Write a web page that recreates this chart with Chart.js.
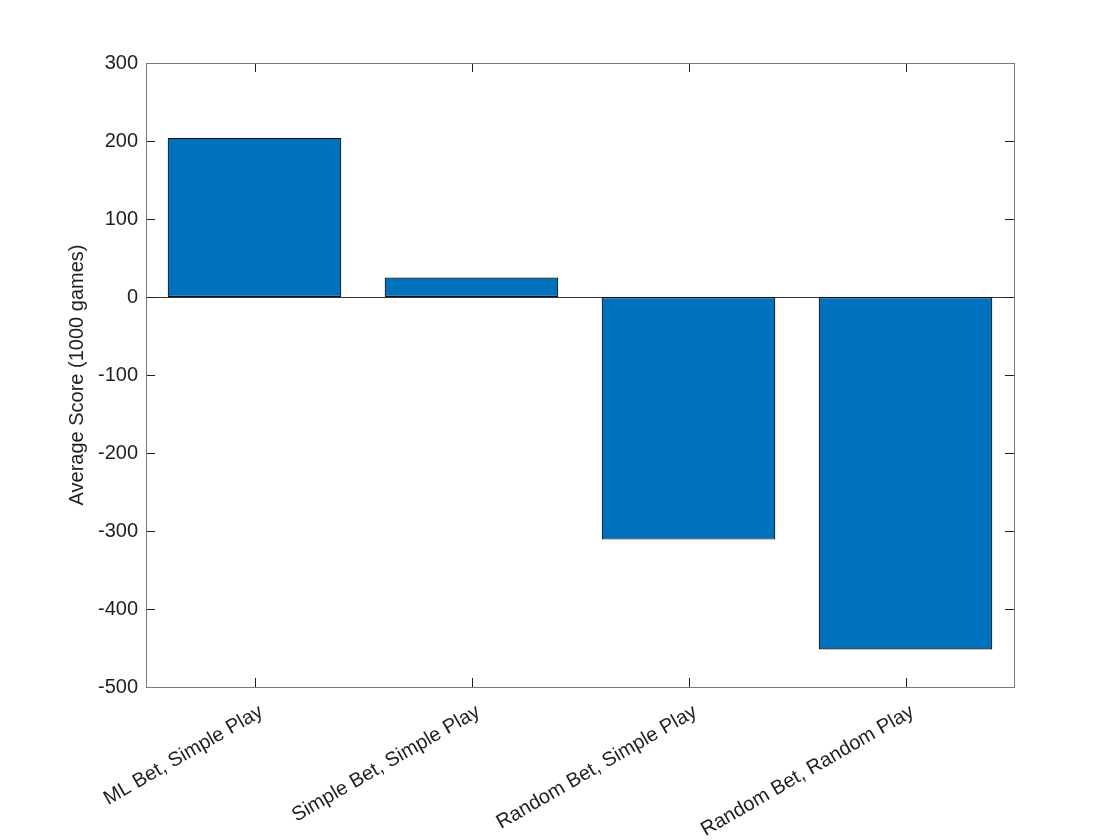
<!DOCTYPE html>
<html>
<head>
<meta charset="utf-8">
<script src="https://cdn.jsdelivr.net/npm/chart.js@4/dist/chart.umd.min.js"></script>
<style>
  html, body { margin: 0; padding: 0; background: #fff; }
  #wrap { width: 1120px; height: 840px; }
</style>
</head>
<body>
<div id="wrap"><canvas id="myChart" width="1120" height="840"></canvas></div>
<script>
'use strict';

// chart data
var categories = [
  'ML Bet, Simple Play',
  'Simple Bet, Simple Play',
  'Random Bet, Simple Play',
  'Random Bet, Random Play'
];
var scores = [204, 25, -311, -452];
var yTicks = [300, 200, 100, 0, -100, -200, -300, -400, -500];

var FONT = 'Helvetica, Arial, "Liberation Sans", sans-serif';
var tickColor = '#1f1f1f';

// box, inward ticks (matlab style)
var boxPlugin = {
  id: 'boxPlugin',
  beforeDatasetsDraw: function(chart) {
    var ctx = chart.ctx;
    var area = chart.chartArea;
    var y0 = chart.scales.y.getPixelForValue(0);
    ctx.save();
    ctx.strokeStyle = '#333';
    ctx.lineWidth = 1;
    ctx.beginPath();
    ctx.moveTo(area.left, Math.round(y0) + 0.5);
    ctx.lineTo(area.right, Math.round(y0) + 0.5);
    ctx.stroke();
    ctx.restore();
  },
  afterDraw: function(chart) {
    var ctx = chart.ctx;
    var area = chart.chartArea;
    var xs = chart.scales.x;
    var ys = chart.scales.y;
    var len = 9;
    ctx.save();
    ctx.lineWidth = 1;
    ctx.strokeStyle = tickColor;
    ctx.beginPath();
    for (var i = 0; i < categories.length; i++) {
      var x = Math.round(xs.getPixelForTick(i)) + 0.5;
      ctx.moveTo(x, area.bottom);
      ctx.lineTo(x, area.bottom - len);
      ctx.moveTo(x, area.top);
      ctx.lineTo(x, area.top + len);
    }
    for (var j = 0; j < yTicks.length; j++) {
      var y = Math.round(ys.getPixelForValue(yTicks[j])) + 0.5;
      ctx.moveTo(area.left, y);
      ctx.lineTo(area.left + len, y);
      ctx.moveTo(area.right, y);
      ctx.lineTo(area.right - len, y);
    }
    ctx.stroke();
    ctx.strokeStyle = '#7a7a7a';
    ctx.strokeRect(Math.round(area.left) + 0.5, Math.round(area.top) + 0.5,
      Math.round(area.right - area.left), Math.round(area.bottom - area.top));
    ctx.restore();
  }
};

var canvas = document.getElementById('myChart');
var ctx = canvas.getContext('2d');

var barChart = new Chart(ctx, {
  type: 'bar',
  data: {
    labels: categories,
    datasets: [{
      data: scores,
      backgroundColor: '#0072BD',
      borderColor: '#0a0f14',
      borderWidth: 1.2,
      borderSkipped: false,
      barPercentage: 0.8,
      categoryPercentage: 1.0
    }]
  },
  options: {
    responsive: false,
    animation: false,
    devicePixelRatio: 1,
    layout: { padding: { left: 0, top: 63, right: 106, bottom: 0 } },
    plugins: {
      legend: { display: false },
      tooltip: { enabled: false }
    },
    scales: {
      x: {
        grid: { display: false, drawTicks: false },
        border: { display: false },
        ticks: {
          color: tickColor,
          font: { family: FONT, size: 20 },
          minRotation: 30,
          maxRotation: 30,
          padding: 13,
          labelOffset: 7
        },
        afterFit: function(scale) { scale.height = 153; }
      },
      y: {
        min: -500,
        max: 300,
        grid: { display: false, drawTicks: false },
        border: { display: false },
        ticks: {
          stepSize: 100,
          color: tickColor,
          font: { family: FONT, size: 20 },
          padding: 8
        },
        title: {
          display: true,
          text: 'Average Score (1000 games)',
          color: tickColor,
          font: { family: FONT, size: 20 },
          padding: { top: 65 }
        },
        afterFit: function(scale) { scale.width = 146; }
      }
    }
  },
  plugins: [boxPlugin]
});
</script>
</body>
</html>
